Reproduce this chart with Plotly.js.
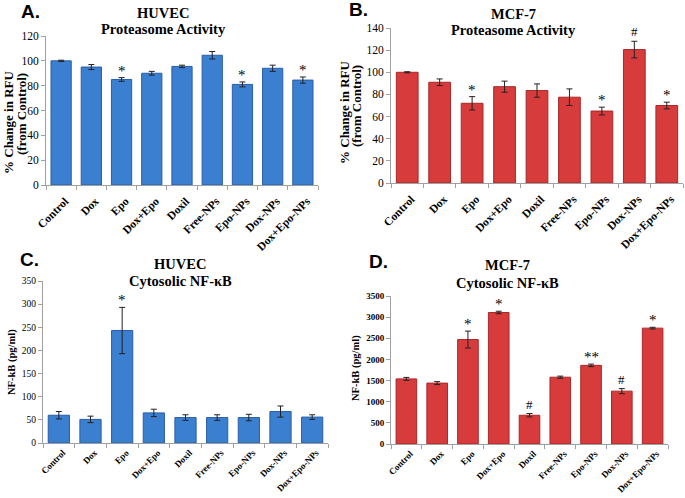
<!DOCTYPE html>
<html><head><meta charset="utf-8">
<script src="https://cdn.plot.ly/plotly-3.0.1.min.js"></script>
<style>body{margin:0;padding:0;background:#fff}#c{width:685px;height:498px}</style>
</head><body><div id="c"></div>
<script>
const categories = ["Control","Dox","Epo","Dox+Epo","Doxil","Free-NPs","Epo-NPs","Dox-NPs","Dox+Epo-NPs"];
// A: HUVEC proteasome activity
const valA = [100, 95, 85, 90, 95.5, 104.5, 81, 94, 84.5];
const errA = [0.5, 2, 1.5, 1.5, 1, 3, 2, 2.5, 2.5];
const sigA = ["", "", "*", "", "", "", "*", "", "*"];
// B: MCF-7 proteasome activity
const valB = [100, 91, 72, 87, 83.5, 77.5, 65, 120.5, 70];
const errB = [0.5, 3, 6, 5, 6, 7.5, 3.5, 7.5, 3];
const sigB = ["", "", "*", "", "", "", "*", "#", "*"];
// C: HUVEC cytosolic NF-kB
const valC = [60, 51, 243, 65, 55, 55, 55, 68, 56];
const errC = [8, 7, 50, 8, 6, 6, 7, 12, 5];
const sigC = ["", "", "*", "", "", "", "", "", ""];
// D: MCF-7 cytosolic NF-kB
const valD = [1540, 1440, 2470, 3110, 680, 1580, 1860, 1250, 2740];
const errD = [35, 35, 200, 30, 40, 25, 30, 60, 20];
const sigD = ["", "", "*", "*", "#", "", "**", "#", "*"];

const W = 685, H = 498;
const px = x => x / W, py = y => 1 - y / H;
const serif = "Liberation Serif, Times New Roman, serif";
const blue = {fill: "#3b7fd0", line: "#2a5ea6"};
const red = {fill: "#d73b3b", line: "#a82828"};

const panels = [
  {v: valA, e: errA, s: sigA, col: blue, x: [46, 318], y: [185, 36], range: [0, 120], dtick: 20,
   tfs: 11.5, xfs: 11.5, tickBold: false, so: 4},
  {v: valB, e: errB, s: sigB, col: red, x: [391, 683], y: [183, 28], range: [0, 140], dtick: 20,
   tfs: 11.5, xfs: 11.5, tickBold: false, so: 4},
  {v: valC, e: errC, s: sigC, col: blue, x: [43, 328], y: [443, 281], range: [0, 350], dtick: 50,
   tfs: 9.5, xfs: 9, tickBold: false, so: 0},
  {v: valD, e: errD, s: sigD, col: red, x: [391, 668], y: [444, 296], range: [0, 3500], dtick: 500,
   tfs: 9, xfs: 9, tickBold: true, so: 0},
];

const data = [], annotations = [];
const layout = {
  width: W, height: H, margin: {l: 0, r: 0, t: 0, b: 0},
  paper_bgcolor: "#fff", plot_bgcolor: "#fff", showlegend: false, bargap: 0.33,
  annotations: annotations
};

panels.forEach((p, i) => {
  const n = i + 1;
  const xa = n === 1 ? "x" : "x" + n, ya = n === 1 ? "y" : "y" + n;
  data.push({
    type: "bar", x: categories, y: p.v, xaxis: xa, yaxis: ya,
    marker: {color: p.col.fill, line: {color: p.col.line, width: 1}},
    error_y: {type: "data", array: p.e, visible: true, color: "#222", thickness: 1, width: 3},
    hoverinfo: "skip"
  });
  layout["xaxis" + (n === 1 ? "" : n)] = {
    domain: [px(p.x[0]), px(p.x[1])], anchor: ya, type: "category",
    showline: true, linecolor: "#a0a0a0", linewidth: 1,
    ticks: "outside", tickson: "boundaries", ticklen: 4, tickcolor: "#a0a0a0",
    tickangle: -45, showgrid: false, zeroline: false,
    ticklabelstandoff: p.so, ticklabelshift: 4,
    tickfont: {family: serif, size: p.xfs, color: "#000", weight: "bold"}
  };
  layout["yaxis" + (n === 1 ? "" : n)] = {
    domain: [py(p.y[0]), py(p.y[1])], anchor: xa, range: p.range, dtick: p.dtick,
    showline: true, linecolor: "#a0a0a0", linewidth: 1,
    ticks: "outside", ticklen: 4, tickcolor: "#a0a0a0", showgrid: false, zeroline: false,
    tickfont: {family: serif, size: p.tfs, color: "#000", weight: p.tickBold ? "bold" : "normal"}
  };
  p.s.forEach((t, k) => {
    if (!t) return;
    annotations.push({
      xref: xa, yref: ya, x: categories[k], y: p.v[k] + p.e[k], text: t, showarrow: false,
      yanchor: "bottom", yshift: t === "#" ? 0 : -3,
      font: {family: serif, size: t === "#" ? 13 : 15, color: "#000000"}
    });
  });
});

function txt(x, y, text, size, opts) {
  annotations.push(Object.assign({
    xref: "paper", yref: "paper", x: px(x), y: py(y), text: text, showarrow: false,
    xanchor: "center", yanchor: "middle",
    font: {family: serif, size: size, color: "#000", weight: "bold"}
  }, opts || {}));
}
// Panel letters
const letterFont = {family: "Liberation Sans, Arial, sans-serif", size: 19, color: "#000", weight: "bold"};
txt(30, 11, "A.", 19, {font: letterFont});
txt(358, 9, "B.", 19, {font: letterFont});
txt(29, 259, "C.", 19, {font: letterFont});
txt(378, 261, "D.", 19, {font: letterFont});
// Titles
txt(163, 13, "HUVEC", 14.5);
txt(163, 29, "Proteasome Activity", 14.5);
txt(513, 14, "MCF-7", 14.5);
txt(513, 30, "Proteasome Activity", 14.5);
txt(180, 264, "HUVEC", 14.5);
txt(180, 281, "Cytosolic NF-κB", 14.5);
txt(507, 265, "MCF-7", 14.5);
txt(507, 283, "Cytosolic NF-κB", 14.5);
// Y axis titles
txt(9, 122, "% Change in RFU", 13, {textangle: -90});
txt(22, 114, "(from Control)", 13, {textangle: -90});
txt(344, 112, "% Change in RFU", 13, {textangle: -90});
txt(357, 106, "(from Control)", 13, {textangle: -90});
txt(12, 362, "NF-kB (pg/ml)", 10.5, {textangle: -90});
txt(356, 368, "NF-kB (pg/ml)", 10.5, {textangle: -90});

Plotly.newPlot("c", data, layout, {staticPlot: true, displayModeBar: false});
</script></body></html>
